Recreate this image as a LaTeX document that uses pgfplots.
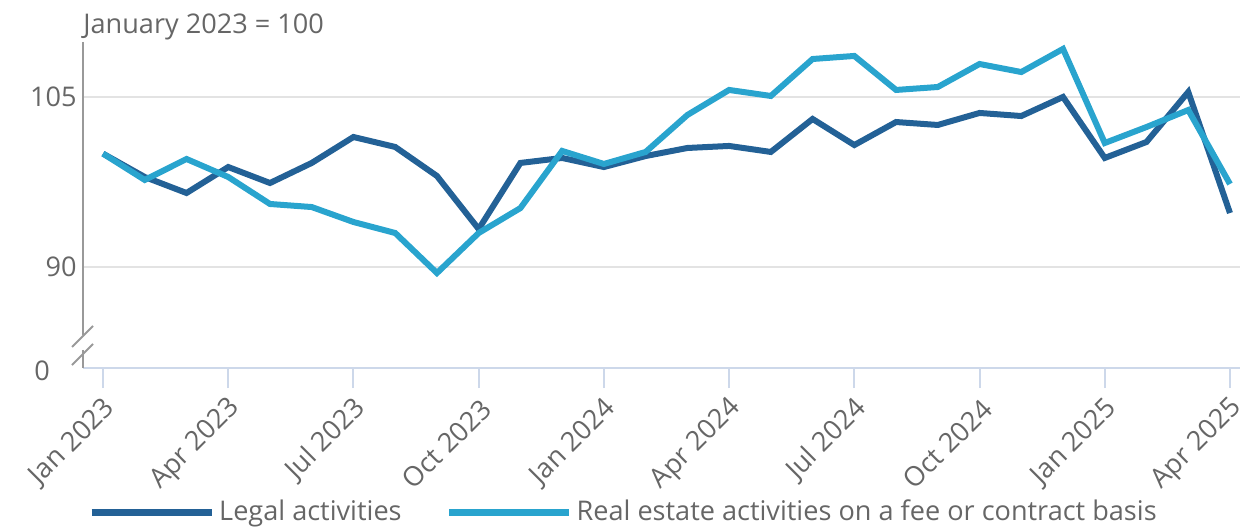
\documentclass[border=0pt]{standalone}
\usepackage{fontspec}
\setmainfont{Open Sans}
\usepackage{pgfplots}
\usepackage{pgfplotstable}
\pgfplotsset{compat=1.18}

\definecolor{legalblue}{HTML}{236196}
\definecolor{realblue}{HTML}{29A4CE}
\definecolor{txtgrey}{HTML}{666666}
\definecolor{gridgrey}{HTML}{E3E3E3}
\definecolor{yaxgrey}{HTML}{999999}
\definecolor{xaxblue}{HTML}{CDD8EA}

% month index (0 = Jan 2023), index values
\pgfplotstableread{
m legal real
0  100.00 100.00
1  97.94  97.68
2  96.53  99.53
3  98.82  97.94
4  97.41  95.56
5  99.18  95.29
6  101.47 93.97
7  100.59 93.00
8  98.03  89.47
9  93.35  93.00
10 99.18  95.20
11 99.62  100.24
12 98.82  99.09
13 99.79  100.15
14 100.50 103.41
15 100.68 105.62
16 100.15 105.09
17 103.06 108.35
18 100.76 108.62
19 102.79 105.62
20 102.53 105.88
21 103.59 107.91
22 103.32 107.20
23 105.00 109.24
24 99.62  100.94
25 101.03 102.35
26 105.44 103.85
27 94.76  97.32
}\datatable

\begin{document}
\fontsize{13.6}{16}\selectfont
\begin{tikzpicture}
\begin{axis}[
  name=ax,
  scale only axis,
  width=578.5bp, height=163bp,
  xmin=-0.48, xmax=27.24,
  ymin=81.09, ymax=109.85,
  axis x line*=bottom,
  axis y line*=left,
  x axis line style={draw=xaxblue, line width=1bp, -},
  y axis line style={draw=none},
  xtick={0,3,...,27},
  xticklabels={Jan 2023,Apr 2023,Jul 2023,Oct 2023,Jan 2024,Apr 2024,Jul 2024,Oct 2024,Jan 2025,Apr 2025},
  xticklabel style={yshift=-8bp, xshift=4bp, rotate=45, anchor=east, text=txtgrey, inner sep=0bp},
  x tick style={draw=xaxblue, line width=1bp},
  xtick align=outside,
  major tick length=10bp,
  ytick={90,105},
  yticklabels={90,105},
  y tick style={draw=none},
  yticklabel style={text=txtgrey, inner sep=0bp, xshift=-3bp},
  ymajorgrids,
  y grid style={draw=gridgrey, line width=1bp},
  /pgf/number format/assume math mode=true,
  clip=false,
  legend columns=2,
  legend style={draw=none, fill=none, at={(rel axis cs:0.468,-0.442)}, anchor=center,
    text=txtgrey, /tikz/every even column/.append style={column sep=20bp}},
  legend image code/.code={\draw[#1, line width=3.5bp] (0bp,0bp) -- (60bp,0bp);},
]
\addplot[legalblue, line width=3bp, line join=miter] table[x=m, y=legal] {\datatable};
\addlegendentry{Legal activities}
\addplot[realblue, line width=3bp, line join=miter] table[x=m, y=real] {\datatable};
\addlegendentry{Real estate activities on a fee or contract basis}
\end{axis}
% y axis line with break marks
\draw[yaxgrey, line width=1bp] (ax.north west) -- ([yshift=16.5bp]ax.south west);
\draw[yaxgrey, line width=1bp] ([yshift=9bp]ax.south west) -- (ax.south west);
\draw[yaxgrey, line width=1bp] ([xshift=-5.5bp, yshift=10.5bp]ax.south west) -- ([xshift=5bp, yshift=21bp]ax.south west);
\draw[yaxgrey, line width=1bp] ([xshift=-5.5bp, yshift=1.5bp]ax.south west) -- ([xshift=5bp, yshift=12bp]ax.south west);
\node[text=txtgrey] at ([xshift=-20.5bp, yshift=-1.5bp]ax.south west) {0};
\node[text=txtgrey, anchor=base west, inner sep=0pt] at ([yshift=4.5bp]ax.north west) {January 2023 = 100};
\pgfresetboundingbox
\path[use as bounding box] ([xshift=-41.5bp, yshift=-81bp]ax.south west) rectangle ([xshift=3bp, yshift=21bp]ax.north east);
\end{tikzpicture}
\end{document}
